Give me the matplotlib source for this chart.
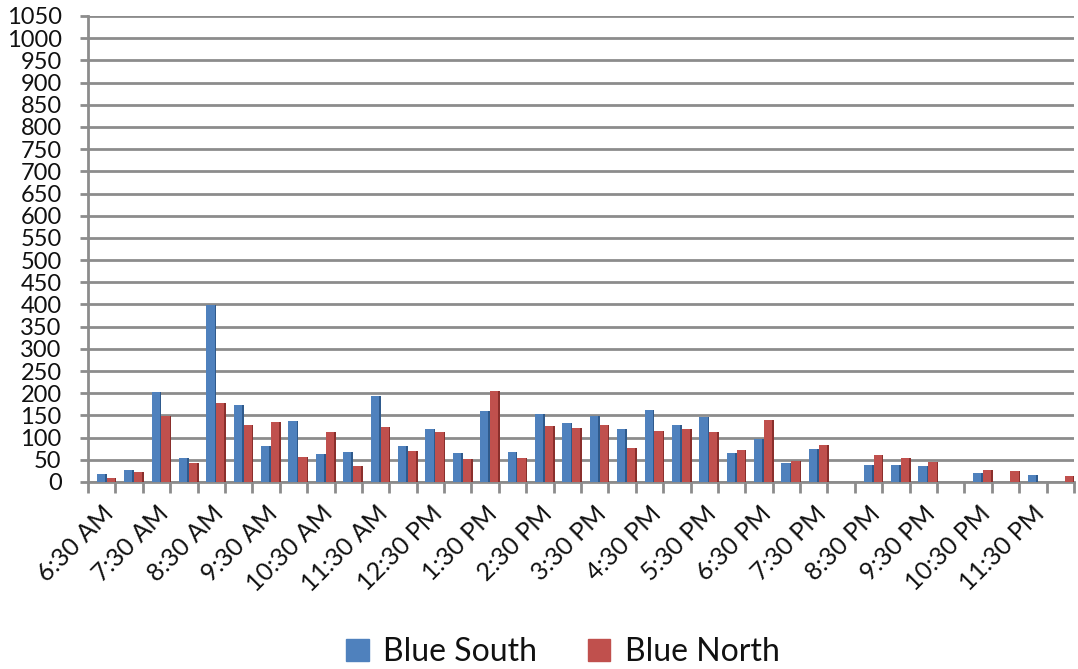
import numpy as np
import matplotlib
import matplotlib.pyplot as plt
import matplotlib.patches as mpatches

matplotlib.use("Agg")
plt.rcParams["font.family"] = ["Lato", "DejaVu Sans"]

# half-hour slots, 6:30 AM .. 12:00 AM
times = ["6:30 AM", "7:00 AM", "7:30 AM", "8:00 AM", "8:30 AM", "9:00 AM",
         "9:30 AM", "10:00 AM", "10:30 AM", "11:00 AM", "11:30 AM", "12:00 PM",
         "12:30 PM", "1:00 PM", "1:30 PM", "2:00 PM", "2:30 PM", "3:00 PM",
         "3:30 PM", "4:00 PM", "4:30 PM", "5:00 PM", "5:30 PM", "6:00 PM",
         "6:30 PM", "7:00 PM", "7:30 PM", "8:00 PM", "8:30 PM", "9:00 PM",
         "9:30 PM", "10:00 PM", "10:30 PM", "11:00 PM", "11:30 PM", "12:00 AM"]
blue_south = [19, 28, 203, 54, 398, 173, 80, 138, 62, 67, 193, 80,
              119, 65, 160, 68, 154, 134, 149, 120, 162, 128, 147, 66,
              98, 42, 74, 1, 38, 38, 35, 0, 21, 0, 15, 0]
blue_north = [10, 22, 148, 42, 178, 128, 136, 56, 113, 36, 123, 69,
              113, 51, 205, 55, 126, 122, 128, 77, 115, 120, 113, 72,
              140, 47, 83, 0, 60, 55, 46, 0, 28, 25, 0, 13]

C_BLUE, C_BLUE_D = "#4f81bd", "#2f5a8c"
C_RED, C_RED_D = "#c0504d", "#8a2f2c"
GRID = "#8c8c8c"
TXT = "#111111"

W, H = 1078, 669
fig = plt.figure(figsize=(W / 100, H / 100), dpi=100)
ax = fig.add_axes([88 / W, 1 - 482 / H, (1074 - 88) / W, (482 - 16) / H])

x = np.arange(len(times))
fw, sw = 0.30, 0.06   # front face / side face widths (category units)
for vals, off, c, cd in [(blue_south, -0.18, C_BLUE, C_BLUE_D),
                         (blue_north, 0.18, C_RED, C_RED_D)]:
    ax.bar(x + off + fw / 2, vals, width=fw, color=c, edgecolor="none", zorder=3)
    ax.bar(x + off + fw + sw / 2, vals, width=sw, color=cd, edgecolor="none", zorder=3)

ax.set_xlim(-0.5, len(times) - 0.5)
ax.set_ylim(0, 1050)
ax.set_yticks(np.arange(0, 1051, 50))
ax.yaxis.grid(True, color=GRID, lw=2)
ax.set_axisbelow(True)

ax.set_xticks(x[::2])
ax.set_xticklabels(times[::2], rotation=45, ha="right", va="top",
                   rotation_mode="anchor", fontsize=18, color=TXT)
ax.set_xticks(np.arange(-0.5, len(times)), minor=True)
ax.tick_params(axis="x", which="major", length=0, pad=14)
ax.tick_params(axis="x", which="minor", length=8, width=2, color=GRID)
ax.tick_params(axis="y", length=6, width=2, color=GRID, pad=13,
               labelsize=17, labelcolor=TXT)

for s in ["top", "right"]:
    ax.spines[s].set_visible(False)
for s in ["left", "bottom"]:
    ax.spines[s].set_color(GRID)
    ax.spines[s].set_linewidth(2)

handles = [mpatches.Patch(color=C_BLUE, label="Blue South"),
           mpatches.Patch(color=C_RED, label="Blue North")]
fig.legend(handles=handles, loc="center", bbox_to_anchor=(563 / W, 1 - 652 / H),
           ncol=2, frameon=False, fontsize=23, handlelength=0.7, handleheight=0.7,
           columnspacing=1.6, handletextpad=0.45, labelcolor=TXT)

fig.savefig("out.png", dpi=100, facecolor="white")
